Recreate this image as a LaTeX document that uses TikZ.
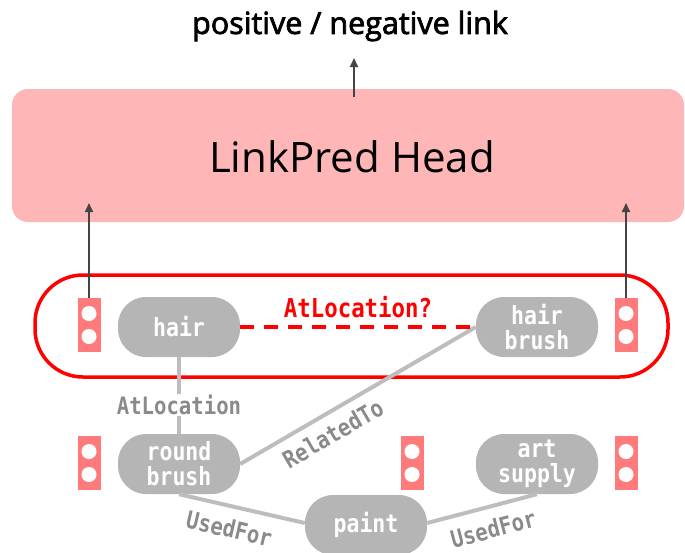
\documentclass[tikz,border=0pt]{standalone}
\usepackage{fontspec}
\setmainfont{Open Sans}
\newfontfamily\headfont{Open Sans}[FakeBold=2.5]
\newfontfamily\cmono{DejaVu Sans Mono Bold}[FakeStretch=0.86]
\usetikzlibrary{arrows.meta,calc}
\definecolor{headpink}{HTML}{FFB6B6}
\definecolor{embred}{HTML}{FF7B7B}
\definecolor{entgray}{HTML}{B5B5B5}
\definecolor{edgegray}{HTML}{BDBDBD}
\definecolor{lblgray}{HTML}{8A8A8A}
\definecolor{arrgray}{HTML}{444444}
\tikzset{
  ent/.style={fill=entgray, rounded corners=28pt, minimum width=122pt, minimum height=60pt,
    inner sep=0pt, align=center, text=white, font=\fontsize{25}{25}\selectfont\cmono},
  emb/.style={fill=embred, minimum width=23pt, minimum height=54pt, inner sep=0pt,
    path picture={
      \fill[white] ($(path picture bounding box.center)+(0,11.5pt)$) circle (7.5pt);
      \fill[white] ($(path picture bounding box.center)+(0,-11.5pt)$) circle (7.5pt);}},
  rel/.style={draw=edgegray, line width=4pt},
  rellbl/.style={text=lblgray, font=\fontsize{24}{24}\selectfont\cmono, inner sep=1pt},
  flow/.style={draw=arrgray, line width=1.8pt, -{Triangle[length=9pt,width=8pt]}},
}
\begin{document}
\begin{tikzpicture}[x=1pt,y=1pt]
  \useasboundingbox (0,0) rectangle (685,-552);

  % output label and prediction head
  \node[font=\fontsize{30.5}{32}\selectfont\headfont] (out) at (350,-26) {positive / negative link};
  \node[fill=headpink, rounded corners=16pt, minimum width=672pt, minimum height=133pt,
        inner sep=0pt] (head) at (348,-155.5) {};
  \node[font=\fontsize{42}{46}\selectfont] (headtxt) at (352,-157) {LinkPred Head};
  \coordinate (outtip) at (354,-58);
  \coordinate (outfoot) at (354,-97);
  \draw[flow] (outfoot) -- (outtip);

  % candidate pair
  \node[draw=red, line width=3.5pt, rounded corners=48pt, minimum width=633pt,
        minimum height=102pt, inner sep=0pt] (pair) at (351.5,-326) {};

  % embeddings
  \node[emb] (e1) at (89,-325) {};
  \node[emb] (e2) at (626,-325) {};
  \node[emb] (e3) at (89,-463) {};
  \node[emb] (e4) at (412,-463) {};
  \node[emb] (e5) at (626,-463) {};
  \coordinate (t1) at (89,-203);
  \coordinate (t2) at (626,-203);
  \draw[flow] (e1.north) -- (t1);
  \draw[flow] (e2.north) -- (t2);

  % entities
  \node[ent] (hair) at (179,-327) {hair};
  \node[ent] (hb) at (537,-327) {hair\\brush};
  \node[ent] (rb) at (179,-464) {round\\brush};
  \node[ent] (art) at (537,-464) {art\\supply};
  \node[ent] (paint) at (366,-525) {paint};

  % relations
  \draw[rel] (hair.south) -- node[pos=0.62, fill=white, rellbl] {AtLocation} (rb.north);
  \draw[rel] (rb.east) -- node[pos=0.35, sloped, below=8pt, rellbl] {RelatedTo} (hb.west);
  \draw[rel] (rb.south) -- node[pos=0.44, sloped, below=10pt, rellbl] {UsedFor} ([yshift=2pt]paint.west);
  \draw[rel] ([yshift=2pt]paint.east) -- node[pos=0.55, sloped, below=10pt, rellbl] {UsedFor} (art.south);
  \draw[red, line width=4pt, dash pattern=on 14pt off 10pt] (hair.east) --
    node[above=4pt, text=red, font=\fontsize{26}{26}\selectfont\cmono] {AtLocation?} (hb.west);
\end{tikzpicture}
\end{document}
